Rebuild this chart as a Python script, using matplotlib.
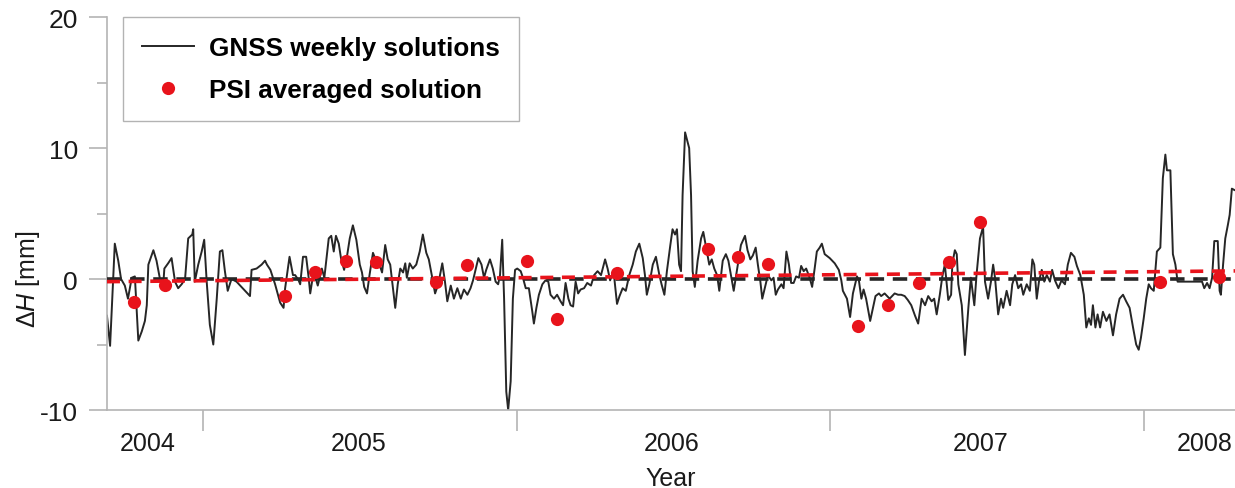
import matplotlib
matplotlib.use("Agg")
import matplotlib.pyplot as plt
import numpy as np

plt.rcParams['font.family'] = ['Liberation Sans', 'DejaVu Sans']
plt.rcParams['mathtext.fontset'] = 'custom'
plt.rcParams['mathtext.rm'] = 'Liberation Sans'
plt.rcParams['mathtext.it'] = 'Liberation Sans:italic'
plt.rcParams['axes.unicode_minus'] = False

# GNSS weekly height changes [mm] vs decimal year
gnss_t = [
    2004.694, 2004.704, 2004.719, 2004.730, 2004.739, 2004.751, 2004.761, 2004.773, 2004.783, 2004.794,
    2004.805, 2004.815, 2004.821, 2004.826, 2004.842, 2004.852, 2004.863, 2004.873, 2004.877, 2004.889,
    2004.900, 2004.911, 2004.921, 2004.932, 2004.943, 2004.953, 2004.966, 2004.969, 2004.974, 2004.985,
    2004.996, 2005.004, 2005.012, 2005.022, 2005.033, 2005.044, 2005.054, 2005.062, 2005.070, 2005.079,
    2005.091, 2005.107, 2005.150, 2005.155, 2005.171, 2005.187, 2005.198, 2005.204,
    2005.215, 2005.230, 2005.246, 2005.257, 2005.262, 2005.276, 2005.287, 2005.294, 2005.305, 2005.310,
    2005.319, 2005.329, 2005.337, 2005.342, 2005.353, 2005.366, 2005.379, 2005.387, 2005.401, 2005.409,
    2005.417, 2005.424, 2005.433, 2005.440, 2005.450, 2005.459, 2005.468, 2005.478, 2005.489, 2005.500,
    2005.507, 2005.514, 2005.523, 2005.531, 2005.542, 2005.552, 2005.563, 2005.571, 2005.581, 2005.589,
    2005.597, 2005.608, 2005.613, 2005.621, 2005.629, 2005.638, 2005.645, 2005.650, 2005.659, 2005.669,
    2005.680, 2005.691, 2005.701, 2005.712, 2005.720,
    2005.731, 2005.740, 2005.750, 2005.763, 2005.771, 2005.779, 2005.790, 2005.800, 2005.811, 2005.822,
    2005.832, 2005.843, 2005.853, 2005.861, 2005.869, 2005.878, 2005.888, 2005.896, 2005.903, 2005.915,
    2005.924, 2005.933, 2005.941, 2005.947, 2005.954, 2005.960, 2005.967, 2005.973, 2005.981, 2005.988,
    2005.995, 2006.002, 2006.013, 2006.020, 2006.029, 2006.039, 2006.050, 2006.055, 2006.063, 2006.071,
    2006.082, 2006.092, 2006.101, 2006.108, 2006.119, 2006.129, 2006.140, 2006.148, 2006.156, 2006.165,
    2006.172, 2006.180, 2006.188, 2006.196, 2006.204, 2006.215, 2006.225, 2006.237,
    2006.247, 2006.258, 2006.269, 2006.282, 2006.290, 2006.298, 2006.309, 2006.320, 2006.328, 2006.338,
    2006.348, 2006.359, 2006.370, 2006.380, 2006.391, 2006.402, 2006.409, 2006.415, 2006.423, 2006.434,
    2006.444, 2006.455, 2006.462, 2006.471, 2006.479, 2006.490, 2006.497, 2006.505, 2006.511, 2006.518,
    2006.524, 2006.529, 2006.537, 2006.550, 2006.556, 2006.561, 2006.568, 2006.577, 2006.588, 2006.595,
    2006.604, 2006.614, 2006.622, 2006.630, 2006.639, 2006.646, 2006.657, 2006.667, 2006.675, 2006.683,
    2006.692, 2006.702, 2006.715, 2006.728, 2006.736, 2006.745, 2006.753,
    2006.762, 2006.769, 2006.777, 2006.783, 2006.791, 2006.801, 2006.812, 2006.819, 2006.826, 2006.833,
    2006.844, 2006.851, 2006.860, 2006.868, 2006.875, 2006.883, 2006.891, 2006.900, 2006.907, 2006.915,
    2006.923, 2006.934, 2006.942, 2006.950, 2006.957, 2006.966, 2006.973, 2006.982, 2006.998, 2007.014,
    2007.027, 2007.035, 2007.040, 2007.053, 2007.063, 2007.072, 2007.081, 2007.085, 2007.091, 2007.099,
    2007.106, 2007.114, 2007.127, 2007.136, 2007.144, 2007.155, 2007.162, 2007.173, 2007.189, 2007.205,
    2007.216, 2007.226, 2007.237, 2007.247, 2007.258, 2007.270,
    2007.280, 2007.291, 2007.302, 2007.312, 2007.323, 2007.331, 2007.339, 2007.349, 2007.357, 2007.365,
    2007.376, 2007.385, 2007.389, 2007.397, 2007.403, 2007.408, 2007.419, 2007.429, 2007.440, 2007.448,
    2007.459, 2007.466, 2007.477, 2007.487, 2007.493, 2007.503, 2007.512, 2007.519, 2007.525, 2007.535,
    2007.544, 2007.551, 2007.562, 2007.573, 2007.580, 2007.589, 2007.599, 2007.608, 2007.615, 2007.626,
    2007.636, 2007.644, 2007.650, 2007.658, 2007.665, 2007.674, 2007.682, 2007.690, 2007.700, 2007.707,
    2007.716, 2007.727, 2007.737, 2007.748, 2007.757, 2007.767, 2007.778, 2007.786,
    2007.797, 2007.808, 2007.816, 2007.824, 2007.831, 2007.837, 2007.845, 2007.852, 2007.860, 2007.869,
    2007.880, 2007.890, 2007.901, 2007.911, 2007.922, 2007.933, 2007.943, 2007.954, 2007.965, 2007.975,
    2007.983, 2007.990, 2007.999, 2008.007, 2008.015, 2008.022, 2008.031, 2008.036, 2008.041, 2008.052,
    2008.060, 2008.068, 2008.073, 2008.084, 2008.092, 2008.100, 2008.107, 2008.137, 2008.169, 2008.185,
    2008.192, 2008.201, 2008.209, 2008.217, 2008.224, 2008.235, 2008.241, 2008.245, 2008.252, 2008.259,
    2008.267, 2008.273, 2008.280, 2008.288,
]
gnss_dh = [
    -2.8, -5.1, 2.7, 1.4, 0.0, -0.5, -1.5, 0.1, 0.2, -4.7,
    -4.0, -3.2, -2.0, 1.1, 2.2, 1.4, 0.0, -0.6, 0.8, 1.2,
    1.6, -0.2, -0.7, -0.4, 0.0, 3.1, 3.4, 3.8, -0.2, 1.1,
    2.1, 3.0, -0.2, -3.5, -5.0, -1.5, 2.1, 2.2, 0.6, -0.9,
    0.0, -0.2, -1.3, 0.7, 0.8, 1.1, 1.4, 1.1,
    0.7, -0.4, -1.8, -2.2, -0.7, 1.7, 0.3, 0.3, -0.1, -0.4,
    1.7, 1.7, 0.1, -1.1, 0.6, -0.5, 0.8, 0.1, 3.1, 3.3,
    2.1, 3.3, 2.7, 1.6, 0.7, 1.7, 3.1, 4.1, 3.0, 1.1,
    0.5, -0.6, -1.1, 0.3, 2.0, 1.4, 1.1, 0.5, 2.6, 1.5,
    1.1, -1.2, -2.2, -0.4, 0.8, 0.5, 1.2, 0.1, 1.2, 0.8,
    1.1, 2.1, 3.4, 2.0, 1.5,
    0.1, -1.1, -0.4, 1.2, -0.1, -1.7, -0.5, -1.5, -0.7, -1.5,
    -0.8, -1.2, -0.7, -0.1, 0.7, 1.6, 1.1, 0.1, 0.7, 1.5,
    0.8, -0.2, -0.4, 0.3, 3.0, -1.5, -8.6, -10.0, -7.8, -1.5,
    0.7, 0.8, 0.6, 0.1, -0.7, -0.7, -2.5, -3.4, -2.2, -1.2,
    -0.4, -0.1, -0.2, -1.2, -1.5, -1.2, -1.7, -2.0, -0.3, -1.5,
    -2.0, -2.1, -0.2, -1.1, -0.8, -0.7, -0.3, -0.5,
    0.3, 0.6, 0.3, 1.5, 0.8, -0.1, 0.6, -1.9, -1.3, -0.7,
    -0.9, 0.3, 1.1, 2.1, 2.7, 1.6, 0.3, -1.2, -0.4, 1.1,
    1.7, 0.3, -0.4, -1.2, 0.6, 2.6, 3.8, 3.4, 3.8, 1.1,
    0.6, 6.4, 11.2, 10.0, 6.4, 0.6, -0.6, 1.4, 3.1, 3.6,
    2.4, 1.1, 1.5, 0.8, 0.3, -0.9, 1.4, 1.9, 1.4, 0.3,
    -0.9, 0.6, 2.6, 3.3, 2.2, 1.5, 1.8,
    2.4, 1.1, -0.2, -1.5, -0.7, 0.3, -0.1, 0.1, -1.2, -0.8,
    -0.4, -0.7, 2.1, 1.1, -0.3, -0.3, 0.2, 0.1, 1.0, 0.6,
    0.8, 0.1, -0.6, 0.8, 2.1, 2.4, 2.7, 1.9, 1.6, 1.2,
    0.7, -0.1, -0.9, -1.5, -2.9, -1.1, -0.2, 0.2, -0.1, -1.5,
    -0.8, -1.5, -3.2, -2.2, -1.3, -1.1, -1.3, -1.1, -1.5, -1.1,
    -1.2, -1.2, -1.3, -1.6, -2.0, -2.8,
    -3.4, -1.5, -2.0, -1.3, -1.7, -1.5, -2.7, -1.2, 0.2, 1.1,
    -1.6, -1.2, 1.2, 2.2, 1.9, -0.4, -2.0, -5.8, -2.2, 0.1,
    -2.0, 0.3, 3.1, 4.0, -0.2, -1.5, -0.2, 1.1, 0.1, -2.7,
    -1.5, -2.2, -0.9, -2.0, -0.4, 0.3, -0.7, -0.4, -1.2, -0.4,
    -0.9, 1.5, 1.1, -1.5, -0.2, 0.7, -0.2, 0.3, -0.2, 0.7,
    -0.1, -0.7, -0.1, -0.4, 1.1, 2.0, 1.7, 1.0,
    0.3, -1.2, -3.7, -3.0, -3.5, -2.0, -3.7, -2.7, -3.7, -2.5,
    -3.2, -2.7, -4.3, -2.7, -1.5, -1.2, -1.7, -2.2, -3.7, -5.0,
    -5.4, -4.5, -3.0, -1.5, -0.4, -0.7, -0.9, 0.6, 2.1, 2.4,
    7.7, 9.5, 8.3, 8.3, 1.9, 1.1, -0.2, -0.2, -0.2, -0.2,
    -0.7, -0.3, -0.7, 0.1, 2.9, 2.9, -0.9, -1.2, 1.1, 3.1,
    4.1, 4.9, 6.9, 6.8,
]

# PSI averaged solution (one value per acquisition)
psi_t = [2004.780, 2004.878, 2005.261, 2005.358, 2005.456, 2005.551, 2005.743,
         2005.841, 2006.032, 2006.128, 2006.320, 2006.609, 2006.705, 2006.800,
         2007.089, 2007.185, 2007.282, 2007.379, 2007.476, 2008.051, 2008.240]
psi_dh = [-1.76, -0.48, -1.32, 0.51, 1.35, 1.27, -0.23,
          1.05, 1.35, -3.05, 0.46, 2.29, 1.68, 1.17,
          -3.59, -1.96, -0.33, 1.27, 4.33, -0.25, 0.15]

# linear PSI trend, endpoints
trend_t = [2004.694, 2008.290]
trend_dh = [-0.20, 0.62]

year_bounds = [2005, 2006, 2007, 2008]
year_label_pos = [2004.825, 2005.497, 2006.495, 2007.480, 2008.194]
year_labels = ['2004', '2005', '2006', '2007', '2008']

fig = plt.figure(figsize=(12.35, 4.89), dpi=100)
ax = fig.add_axes([0.0866, 0.1595, 0.9134, 0.8035])

ax.plot(gnss_t, gnss_dh, color='#262626', lw=1.4, zorder=2, label='GNSS weekly solutions')
ax.plot(trend_t, [0, 0], color='#262626', lw=2.6, dashes=(4.0, 2.4), zorder=3)
ax.plot(trend_t, trend_dh, color='#e8131b', lw=2.6, dashes=(3.6, 2.4), zorder=4)
ax.plot(psi_t, psi_dh, 'o', color='#e8131b', ms=9.5, mec='none', zorder=5,
        label='PSI averaged solution')

ax.set_xlim(2004.694, 2008.290)
ax.set_ylim(-10, 20)

gray = '#b4b4b4'
for side in ['top', 'right']:
    ax.spines[side].set_visible(False)
for side in ['left', 'bottom']:
    ax.spines[side].set_color(gray)
    ax.spines[side].set_linewidth(1.2)

ax.set_yticks([-10, 0, 10, 20])
ax.set_yticks([-5, 5, 15], minor=True)
ax.tick_params(axis='y', which='major', length=13, width=1.2, color=gray,
               labelsize=19, pad=8, labelcolor='#1a1a1a')
ax.tick_params(axis='y', which='minor', length=7, width=1.2, color=gray)

ax.set_xticks(year_bounds)
ax.set_xticklabels([])
ax.set_xticks(year_label_pos, minor=True)
ax.set_xticklabels(year_labels, minor=True)
ax.tick_params(axis='x', which='major', length=15, width=1.2, color=gray)
ax.tick_params(axis='x', which='minor', length=0, labelsize=18, pad=15,
               labelcolor='#1a1a1a')

ax.set_xlabel('Year', fontsize=18, color='#1a1a1a', labelpad=8)
ax.set_ylabel(r'$\Delta\mathit{H}$ [mm]', fontsize=18, color='#1a1a1a')
ax.yaxis.set_label_coords(-0.058, 0.335)

leg = ax.legend(loc='upper left', bbox_to_anchor=(0.014, 1.0), borderaxespad=0,
                frameon=True, fancybox=False, handlelength=2.0, handletextpad=0.6,
                borderpad=0.72, labelspacing=0.7,
                prop={'size': 18.8, 'weight': 'bold'})
leg.get_frame().set_edgecolor('#a0a0a0')
leg.get_frame().set_linewidth(1.0)

fig.savefig('out.png', dpi=100)
